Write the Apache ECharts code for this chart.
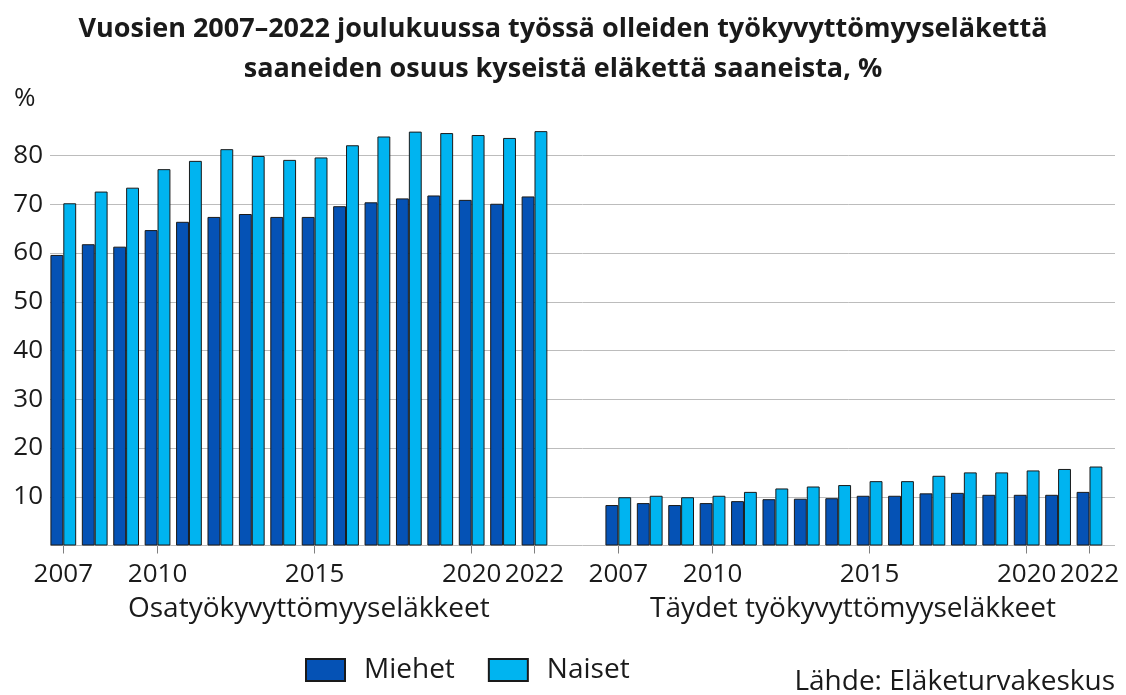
<!DOCTYPE html>
<html>
<head>
<meta charset="utf-8">
<title>Työkyvyttömyyseläkkeet</title>
<script src="https://cdn.jsdelivr.net/npm/echarts@6/dist/echarts.min.js"></script>
<style>
  html, body { margin: 0; padding: 0; background: #fff; }
  #chart { width: 1126px; height: 695px; }
</style>
</head>
<body>
<div id="chart"></div>
<script>
// data
const years = ['2007', '2008', '2009', '2010', '2011', '2012', '2013', '2014',
  '2015', '2016', '2017', '2018', '2019', '2020', '2021', '2022']
const labelYears = ['2007', '2010', '2015', '2020', '2022']

// Osatyökyvyttömyyseläkkeet
const osaMiehet = [59.6, 61.8, 61.3, 64.7, 66.4, 67.4, 68.0, 67.4, 67.4, 69.6, 70.4, 71.2, 71.8, 70.9, 70.1, 71.6]
const osaNaiset = [70.2, 72.6, 73.4, 77.2, 78.9, 81.3, 79.9, 79.1, 79.6, 82.1, 83.9, 84.9, 84.6, 84.2, 83.6, 85.0]

// Täydet työkyvyttömyyseläkkeet
const tayMiehet = [8.3, 8.7, 8.3, 8.7, 9.1, 9.5, 9.6, 9.7, 10.2, 10.2, 10.7, 10.8, 10.4, 10.4, 10.4, 11.0]
const tayNaiset = [9.9, 10.2, 9.9, 10.2, 11.0, 11.7, 12.1, 12.4, 13.2, 13.2, 14.3, 15.0, 15.0, 15.4, 15.7, 16.2]

const chart = echarts.init(document.getElementById('chart'))

const FONT = '"Open Sans", sans-serif'
const TEXT = '#1a1a1a'
const COLOR_M = '#0552b5'
const COLOR_N = '#00b4f0'

const showYear = (i, v) => labelYears.includes(v)

// x axis for one group of bars
const groupAxis = (gridIndex) => ({
  type: 'category',
  gridIndex,
  data: years,
  axisLine: { show: false },
  axisTick: {
    show: true,
    alignWithLabel: true,
    interval: showYear,
    length: 8,
    lineStyle: { color: '#7f7f7f' }
  },
  axisLabel: {
    interval: showYear,
    color: TEXT,
    fontFamily: FONT,
    fontSize: 26,
    margin: 16
  }
})

const barSeries = (name, data, color, axisIndex) => ({
  name,
  type: 'bar',
  xAxisIndex: axisIndex,
  yAxisIndex: axisIndex,
  data,
  barGap: '0%',
  barCategoryGap: '18%',
  itemStyle: { color, borderColor: '#1a1a1a', borderWidth: 1 },
  animation: false
})

chart.setOption({
  backgroundColor: '#fff',
  textStyle: { fontFamily: FONT },
  title: {
    text: 'Vuosien 2007–2022 joulukuussa työssä olleiden työkyvyttömyyseläkettä\nsaaneiden osuus kyseistä eläkettä saaneista, %',
    left: 'center',
    top: 4,
    textStyle: {
      fontFamily: FONT,
      fontWeight: 'bold',
      fontSize: 27,
      lineHeight: 40,
      color: TEXT
    }
  },
  legend: {
    data: ['Miehet', 'Naiset'],
    left: 300,
    top: 651,
    icon: 'rect',
    itemWidth: 39,
    itemHeight: 22,
    itemGap: 33,
    textStyle: { fontFamily: FONT, fontSize: 28, color: TEXT, padding: [0, 0, 0, 14] }
  },
  grid: [
    // background grid: gridlines and y labels across the whole width
    { left: 50, right: 11, top: 155.5, bottom: 149.5 },
    // Osatyökyvyttömyyseläkkeet
    { left: 47.6, width: 502.6, top: 106.75, bottom: 149.5 },
    // Täydet työkyvyttömyyseläkkeet
    { left: 602.6, width: 502.6, top: 106.75, bottom: 149.5 }
  ],
  xAxis: [
    { type: 'value', gridIndex: 0, show: false, min: 0, max: 1 },
    groupAxis(1),
    groupAxis(2)
  ],
  yAxis: [
    {
      type: 'value',
      gridIndex: 0,
      min: 0,
      max: 80,
      interval: 10,
      axisLine: { show: false },
      axisTick: { show: false },
      axisLabel: {
        color: TEXT,
        fontFamily: FONT,
        fontSize: 26,
        margin: 7,
        formatter: (v) => (v === 0 ? '' : String(v))
      },
      splitLine: { lineStyle: { color: '#bcbcbc', width: 1 } }
    },
    { type: 'value', gridIndex: 1, min: 0, max: 90, show: false, splitLine: { show: false } },
    { type: 'value', gridIndex: 2, min: 0, max: 90, show: false, splitLine: { show: false } }
  ],
  graphic: [
    {
      type: 'text', left: 14, top: 86,
      style: { text: '%', fontFamily: FONT, fontSize: 26, fill: TEXT }
    },
    {
      type: 'text', left: 128, top: 595,
      style: { text: 'Osatyökyvyttömyyseläkkeet', fontFamily: FONT, fontSize: 28, fill: TEXT }
    },
    {
      type: 'text', left: 650, top: 595,
      style: { text: 'Täydet työkyvyttömyyseläkkeet', fontFamily: FONT, fontSize: 28, fill: TEXT }
    },
    {
      type: 'text', right: 11, top: 668,
      style: { text: 'Lähde: Eläketurvakeskus', fontFamily: FONT, fontSize: 28, fill: TEXT }
    }
  ],
  series: [
    barSeries('Miehet', osaMiehet, COLOR_M, 1),
    barSeries('Naiset', osaNaiset, COLOR_N, 1),
    barSeries('Miehet', tayMiehet, COLOR_M, 2),
    barSeries('Naiset', tayNaiset, COLOR_N, 2)
  ]
})
</script>
</body>
</html>
